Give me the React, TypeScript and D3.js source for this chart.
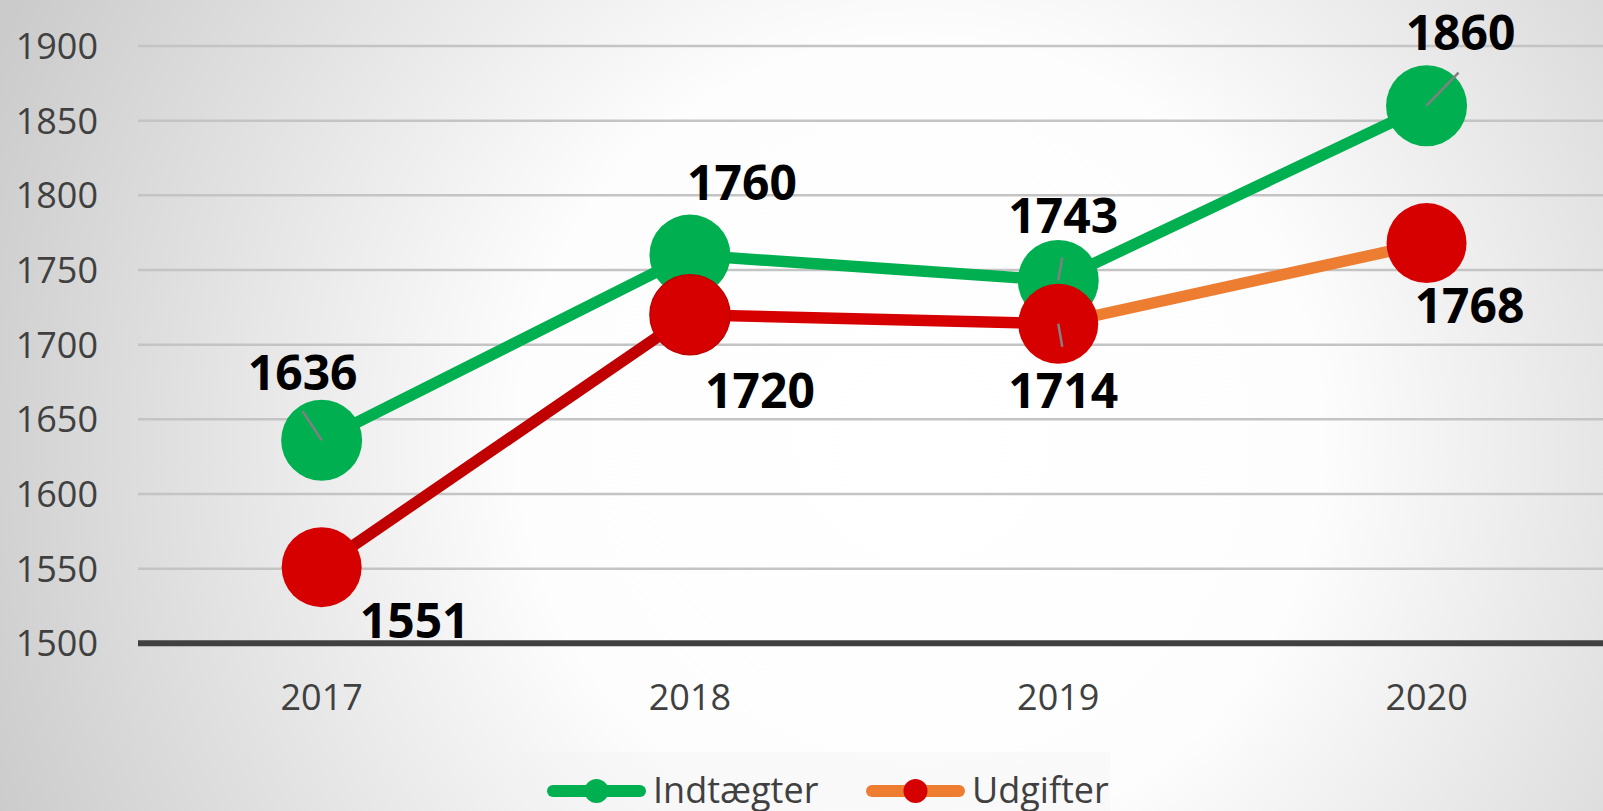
import { useEffect, useRef } from "react";
import * as d3 from "d3";

// chart data
const years = ["2017", "2018", "2019", "2020"];
const incomeValues = [1636, 1760, 1743, 1860];
const expenseValues = [1551, 1720, 1714, 1768];
const yTicks = [1500, 1550, 1600, 1650, 1700, 1750, 1800, 1850, 1900];
const seriesNames = ["Indtægter", "Udgifter"];

// label placement (offset of label centre/baseline from the point), leader = end of gray leader line
const incomeLabelOffsets = [
  { dx: -19, dy: -50, leader: [-19, -29] },
  { dx: 52, dy: -55, leader: null },
  { dx: 5, dy: -47, leader: [4, -23] },
  { dx: 34, dy: -56, leader: [32, -33] },
];
const expenseLabelOffsets = [
  { dx: 93, dy: 71, leader: null },
  { dx: 70, dy: 93, leader: null },
  { dx: 5, dy: 84, leader: [4, 23] },
  { dx: 43, dy: 80, leader: null },
];

const GREEN = "#00b050";
const RED = "#d60000";
const expenseSegmentColors = ["#c00000", "#d60000", "#ed7d31"];

const App = () => {
  const svgRef = useRef<SVGSVGElement | null>(null);

  useEffect(() => {
    const width = 1603;
    const height = 811;
    const font = "'Open Sans', 'Liberation Sans', sans-serif";

    d3.select(svgRef.current).selectAll("*").remove();
    const svg = d3.select(svgRef.current).attr("width", width).attr("height", height);

    // background radial gradient
    const defs = svg.append("defs");
    const grad = defs
      .append("radialGradient")
      .attr("id", "bg")
      .attr("gradientUnits", "userSpaceOnUse")
      .attr("cx", 920)
      .attr("cy", 440)
      .attr("r", 1000);
    grad.append("stop").attr("offset", 0).attr("stop-color", "#ffffff");
    grad.append("stop").attr("offset", 0.4).attr("stop-color", "#fdfdfd");
    grad.append("stop").attr("offset", 1).attr("stop-color", "#cbcbcb");

    svg.append("rect").attr("width", width).attr("height", height).attr("fill", "url(#bg)");

    const x = d3.scalePoint().domain(years).range([137.5, 1610.7]).padding(0.5);
    const y = d3.scaleLinear().domain([1500, 1900]).range([643.3, 46]);

    // grid lines
    svg
      .append("g")
      .selectAll("line")
      .data(yTicks.filter((t) => t !== 1500))
      .enter()
      .append("line")
      .attr("x1", 138)
      .attr("x2", width)
      .attr("y1", (d) => y(d))
      .attr("y2", (d) => y(d))
      .attr("stroke", "#c4c4c4")
      .attr("stroke-width", 2.5);

    // baseline axis
    svg
      .append("line")
      .attr("x1", 138)
      .attr("x2", width)
      .attr("y1", y(1500))
      .attr("y2", y(1500))
      .attr("stroke", "#404040")
      .attr("stroke-width", 6);

    // y tick labels
    svg
      .append("g")
      .selectAll("text")
      .data(yTicks)
      .enter()
      .append("text")
      .attr("x", 98)
      .attr("y", (d) => y(d) + 13)
      .attr("text-anchor", "end")
      .style("font-family", font)
      .style("font-size", "36px")
      .style("fill", "#404040")
      .text((d) => d);

    // x tick labels
    svg
      .append("g")
      .selectAll("text")
      .data(years)
      .enter()
      .append("text")
      .attr("x", (d) => x(d)!)
      .attr("y", 710)
      .attr("text-anchor", "middle")
      .style("font-family", font)
      .style("font-size", "36px")
      .style("fill", "#404040")
      .text((d) => d);

    const line = d3
      .line<number>()
      .x((_, i) => x(years[i])!)
      .y((d) => y(d));

    // income line + markers
    svg
      .append("path")
      .attr("d", line(incomeValues))
      .attr("fill", "none")
      .attr("stroke", GREEN)
      .attr("stroke-width", 11.5)
      .attr("stroke-linejoin", "round");

    svg
      .append("g")
      .selectAll("circle")
      .data(incomeValues)
      .enter()
      .append("circle")
      .attr("cx", (_, i) => x(years[i])!)
      .attr("cy", (d) => y(d))
      .attr("r", 40.5)
      .attr("fill", GREEN);

    // expense segments, each with its own colour
    const segLine = d3
      .line<[string, number]>()
      .x((d) => x(d[0])!)
      .y((d) => y(d[1]));
    const segments = d3.range(expenseValues.length - 1).map((i) => [
      [years[i], expenseValues[i]] as [string, number],
      [years[i + 1], expenseValues[i + 1]] as [string, number],
    ]);
    svg
      .append("g")
      .selectAll("path")
      .data(segments)
      .enter()
      .append("path")
      .attr("d", (d) => segLine(d))
      .attr("fill", "none")
      .attr("stroke", (_, i) => expenseSegmentColors[i])
      .attr("stroke-width", 11.5);

    svg
      .append("g")
      .selectAll("circle")
      .data(expenseValues)
      .enter()
      .append("circle")
      .attr("cx", (_, i) => x(years[i])!)
      .attr("cy", (d) => y(d))
      .attr("r", 40)
      .attr("fill", RED)
      .attr("stroke", (_, i) => (i === 1 ? "#c00000" : "none"))
      .attr("stroke-width", 1.5);

    // data labels with leader lines
    const drawLabels = (values: number[], offsets: typeof incomeLabelOffsets) => {
      const g = svg.append("g");
      values.forEach((v, i) => {
        const px = x(years[i])!;
        const py = y(v);
        const o = offsets[i];
        if (o.leader) {
          g.append("line")
            .attr("x1", px)
            .attr("y1", py)
            .attr("x2", px + o.leader[0])
            .attr("y2", py + o.leader[1])
            .attr("stroke", "#808080")
            .attr("stroke-width", 2.5);
        }
        g.append("text")
          .attr("x", px + o.dx)
          .attr("y", py + o.dy)
          .attr("text-anchor", "middle")
          .style("font-family", font)
          .style("font-size", "48px")
          .style("font-weight", "bold")
          .style("fill", "#000")
          .text(v);
      });
    };
    drawLabels(incomeValues, incomeLabelOffsets);
    drawLabels(expenseValues, expenseLabelOffsets);

    // legend
    const legend = svg.append("g");
    legend
      .append("rect")
      .attr("x", 520)
      .attr("y", 752)
      .attr("width", 590)
      .attr("height", 59)
      .attr("fill", "#f2f2f2")
      .attr("opacity", 0.3);

    const legendItems = [
      { name: seriesNames[0], line: GREEN, marker: GREEN, x0: 547 },
      { name: seriesNames[1], line: "#ed7d31", marker: RED, x0: 866 },
    ];
    legendItems.forEach((item) => {
      legend
        .append("line")
        .attr("x1", item.x0 + 6)
        .attr("x2", item.x0 + 93)
        .attr("y1", 791)
        .attr("y2", 791)
        .attr("stroke", item.line)
        .attr("stroke-width", 12)
        .attr("stroke-linecap", "round");
      legend
        .append("circle")
        .attr("cx", item.x0 + 49.5)
        .attr("cy", 791)
        .attr("r", 12)
        .attr("fill", item.marker);
      legend
        .append("text")
        .attr("x", item.x0 + 106)
        .attr("y", 803)
        .style("font-family", font)
        .style("font-size", "36px")
        .style("fill", "#404040")
        .text(item.name);
    });
  }, []);

  return (
    <svg
      ref={svgRef}
      style={{ position: "absolute", left: 0, top: 0, display: "block" }}
    ></svg>
  );
};

export default App;
